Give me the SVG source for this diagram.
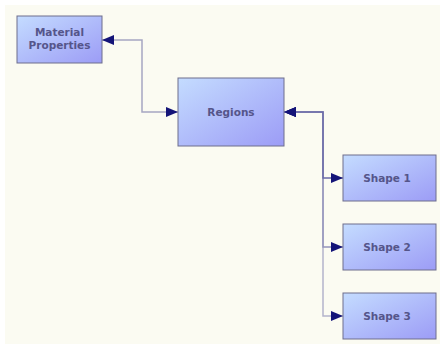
<svg xmlns="http://www.w3.org/2000/svg" width="444" height="345" viewBox="0 0 444 345">
<style>
.box{fill:url(#g);stroke:#6e6e8c;stroke-width:1}
.lbl{font-family:"DejaVu Sans",Verdana,sans-serif;font-weight:bold;font-size:10.5px;fill:#55558a;text-anchor:middle}
.c{fill:none;stroke-width:1.5}
</style>
<defs>
<linearGradient id="g" x1="0" y1="0" x2="1" y2="1">
<stop offset="0" stop-color="#c4dcff"/>
<stop offset="1" stop-color="#9c9cf6"/>
</linearGradient>
<marker id="ah" viewBox="0 0 12 10" refX="12" refY="5" markerWidth="12" markerHeight="10" markerUnits="userSpaceOnUse" orient="auto-start-reverse">
<path d="M0,0 L12,5 L0,10 Z" fill="#141478"/>
</marker>
</defs>
<rect x="0" y="0" width="444" height="345" fill="#ffffff"/>
<rect x="5" y="5" width="435" height="339" fill="#fbfbf2"/>
<g id="connectors">
<path class="c" stroke="#a6a6c2" d="M102,40 H142 V112 H178" marker-start="url(#ah)" marker-end="url(#ah)"/>
<path class="c" stroke="#b4b4cc" d="M284,112 H323 V316 H343" marker-start="url(#ah)" marker-end="url(#ah)"/>
<path class="c" stroke="#9494bc" d="M284,112 H323 V247 H343" marker-start="url(#ah)" marker-end="url(#ah)"/>
<path class="c" stroke="#6a6aa8" d="M284,112 H323 V178 H343" marker-start="url(#ah)" marker-end="url(#ah)"/>
</g>
<g id="material">
<rect class="box" x="17" y="16" width="85" height="47"/>
<text class="lbl" x="59.5" y="36">Material</text>
<text class="lbl" x="59.5" y="49">Properties</text>
</g>
<g id="regions">
<rect class="box" x="178" y="78" width="106" height="68"/>
<text class="lbl" x="231" y="115.5">Regions</text>
</g>
<g id="shape1">
<rect class="box" x="343" y="155" width="93" height="46"/>
<text class="lbl" x="387" y="181.5">Shape 1</text>
</g>
<g id="shape2">
<rect class="box" x="343" y="224" width="93" height="46"/>
<text class="lbl" x="387" y="250.5">Shape 2</text>
</g>
<g id="shape3">
<rect class="box" x="343" y="293" width="93" height="46"/>
<text class="lbl" x="387" y="319.5">Shape 3</text>
</g>
</svg>
